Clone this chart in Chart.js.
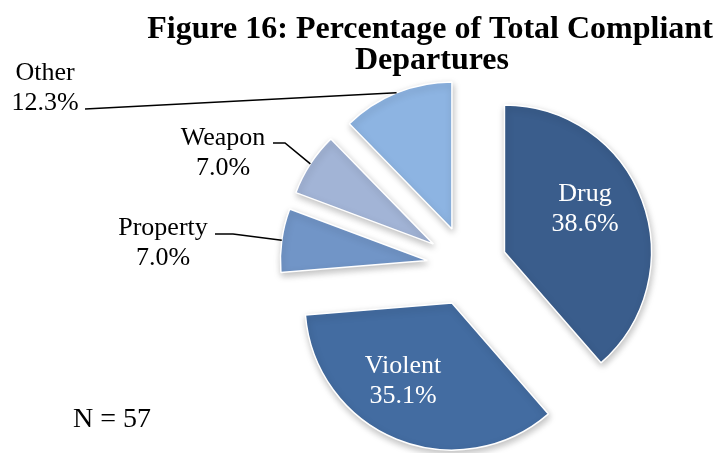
<!DOCTYPE html>
<html>
<head>
<meta charset="utf-8">
<script src="https://cdn.jsdelivr.net/npm/chart.js@4.4.0/dist/chart.umd.min.js"></script>
<style>
  html, body { margin: 0; padding: 0; background: #fff; }
  #wrap { width: 715px; height: 453px; }
</style>
</head>
<body>
<div id="wrap"><canvas id="departuresPie"></canvas></div>
<script>
// data
const categories = ['Drug', 'Violent', 'Property', 'Weapon', 'Other'];
const shares = [38.6, 35.1, 7.0, 7.0, 12.3];
const sampleSize = 57;

// look
const sliceColors = ['#3a5d8c', '#436ca1', '#7195c7', '#a2b4d6', '#8db4e2'];
const explode = [40, 40, 40, 40, 40];   // how far each slice is pulled out, px
const serif = '"Liberation Serif", "Times New Roman", serif';

// where the label text goes; inside labels are white, the others get a leader line
const labelSpots = [
  { x: 585, y: 201, inside: true },
  { x: 403, y: 373, inside: true },
  { x: 163, y: 235, elbow: [[215, 234], [233, 234]] },
  { x: 223, y: 145, elbow: [[273, 143], [285, 143]] },
  { x: 45,  y: 80,  elbow: [[85, 109]] }
];

const pct = v => v.toFixed(1) + '%';

// draw every slice shifted out along its own middle angle, with a soft shadow
const explodedSlices = {
  id: 'explodedSlices',
  beforeDatasetDraw(chart, args) {
    const ctx = chart.ctx;
    ctx.save();
    ctx.shadowColor = 'rgba(0,0,0,0.25)';
    ctx.shadowBlur = 7;
    ctx.shadowOffsetX = 1;
    ctx.shadowOffsetY = 3;
    args.meta.data.forEach((arc, i) => {
      const mid = (arc.startAngle + arc.endAngle) / 2;
      ctx.save();
      ctx.translate(Math.cos(mid) * explode[i], Math.sin(mid) * explode[i]);
      arc.draw(ctx, chart.chartArea);
      ctx.restore();
    });
    ctx.restore();
    return false;
  }
};

const pieText = {
  id: 'pieText',
  afterDraw(chart) {
    const ctx = chart.ctx;
    const arcs = chart.getDatasetMeta(0).data;
    ctx.save();

    // title
    ctx.fillStyle = '#000';
    ctx.textAlign = 'center';
    ctx.textBaseline = 'alphabetic';
    ctx.font = 'bold 32px ' + serif;
    ctx.fillText('Figure 16: Percentage of Total Compliant', 430, 38);
    ctx.fillText('Departures', 432, 69);

    // slice labels
    ctx.font = '26px ' + serif;
    arcs.forEach((arc, i) => {
      const spot = labelSpots[i];
      ctx.fillStyle = spot.inside ? '#fff' : '#000';
      ctx.fillText(categories[i], spot.x, spot.y);
      ctx.fillText(pct(shares[i]), spot.x, spot.y + 30);
      if (!spot.inside) {
        const mid = (arc.startAngle + arc.endAngle) / 2;
        const cx = arc.x + Math.cos(mid) * explode[i];
        const cy = arc.y + Math.sin(mid) * explode[i];
        const ex = cx + Math.cos(mid) * arc.outerRadius;
        const ey = cy + Math.sin(mid) * arc.outerRadius;
        ctx.beginPath();
        ctx.strokeStyle = '#000';
        ctx.lineWidth = 1.6;
        spot.elbow.forEach((p, k) => k ? ctx.lineTo(p[0], p[1]) : ctx.moveTo(p[0], p[1]));
        ctx.lineTo(ex, ey);
        ctx.stroke();
      }
    });

    // sample size
    ctx.fillStyle = '#000';
    ctx.textAlign = 'left';
    ctx.font = '28px ' + serif;
    ctx.fillText('N = ' + sampleSize, 73, 427);
    ctx.restore();
  }
};

new Chart(document.getElementById('departuresPie'), {
  type: 'pie',
  data: {
    labels: categories,
    datasets: [{
      data: shares,
      backgroundColor: sliceColors,
      borderColor: '#ffffff',
      borderWidth: 1.5
    }]
  },
  options: {
    responsive: true,
    maintainAspectRatio: false,
    animation: false,
    events: [],
    radius: 147,
    layout: { padding: { left: 219, right: 0, top: 79, bottom: 0 } },
    plugins: {
      legend: { display: false },
      tooltip: { enabled: false },
      title: { display: false }
    }
  },
  plugins: [explodedSlices, pieText]
});
</script>
</body>
</html>
